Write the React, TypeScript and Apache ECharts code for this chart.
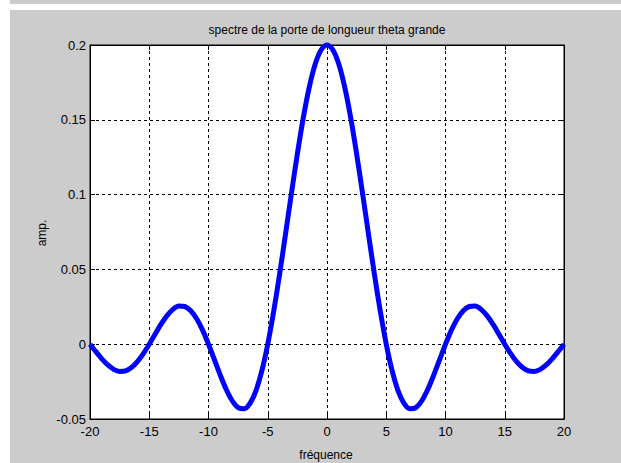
import React, { useEffect, useRef } from "react";
import * as echarts from "echarts";

const titleText = "spectre de la porte de longueur theta grande";
const xLabel = "fréquence";
const yLabel = "amp.";

const freq = [
  -20, -19.5, -19, -18.5, -18, -17.5, -17, -16.5, -16, -15.5,
  -15, -14.5, -14, -13.5, -13, -12.5, -12, -11.5, -11, -10.5,
  -10, -9.5, -9, -8.5, -8, -7.5, -7, -6.5, -6, -5.5,
  -5, -4.5, -4, -3.5, -3, -2.5, -2, -1.5, -1, -0.5,
  0, 0.5, 1, 1.5, 2, 2.5, 3, 3.5, 4, 4.5,
  5, 5.5, 6, 6.5, 7, 7.5, 8, 8.5, 9, 9.5,
  10, 10.5, 11, 11.5, 12, 12.5, 13, 13.5, 14, 14.5,
  15, 15.5, 16, 16.5, 17, 17.5, 18, 18.5, 19, 19.5, 20,
];

const amp = [
  0, -0.005, -0.0098, -0.0139, -0.0168, -0.0182, -0.0178, -0.0156, -0.0117, -0.0063,
  0, 0.0068, 0.0134, 0.0191, 0.0233, 0.0255, 0.0252, 0.0224, 0.017, 0.0094,
  0, -0.0104, -0.0208, -0.0303, -0.0378, -0.0424, -0.0432, -0.0396, -0.0312, -0.0179,
  0, 0.0219, 0.0468, 0.0736, 0.1009, 0.1273, 0.1514, 0.1717, 0.1871, 0.1967,
  0.2, 0.1967, 0.1871, 0.1717, 0.1514, 0.1273, 0.1009, 0.0736, 0.0468, 0.0219,
  0, -0.0179, -0.0312, -0.0396, -0.0432, -0.0424, -0.0378, -0.0303, -0.0208, -0.0104,
  0, 0.0094, 0.017, 0.0224, 0.0252, 0.0255, 0.0233, 0.0191, 0.0134, 0.0068,
  0, -0.0063, -0.0117, -0.0156, -0.0178, -0.0182, -0.0168, -0.0139, -0.0098, -0.005, 0,
];

const xMin = -20;
const xMax = 20;
const xStep = 5;
const yMin = -0.05;
const yMax = 0.2;
const yStep = 0.05;

const FONT = "Liberation Sans, Arial, sans-serif";
const GRAY = "#cccccc";

export default function App() {
  const ref = useRef<HTMLDivElement>(null);

  useEffect(() => {
    if (!ref.current) return;
    const chart = echarts.init(ref.current, undefined, { renderer: "svg" });
    const data = freq.map((f, i) => [f, amp[i]]);

    const axisCommon = {
      z: 3,
      axisLine: { show: true, onZero: false, lineStyle: { color: "#000", width: 1 } },
      axisTick: { show: true, inside: true, length: 5, lineStyle: { color: "#000" } },
    };

    chart.setOption({
      animation: false,
      backgroundColor: "#ffffff",
      grid: {
        left: 90,
        top: 45,
        right: 57,
        bottom: 44,
        show: true,
        backgroundColor: "#ffffff",
        borderColor: "#000",
        borderWidth: 1,
      },
      graphic: [
        { type: "rect", z: -10, silent: true, shape: { x: 10, y: 0, width: 611, height: 4 }, style: { fill: GRAY } },
        { type: "rect", z: -10, silent: true, shape: { x: 10, y: 10, width: 611, height: 453 }, style: { fill: GRAY } },
        {
          type: "text", x: 327, y: 30, z: 10,
          style: { text: titleText, font: `12px ${FONT}`, fill: "#000", align: "center", verticalAlign: "middle" },
        },
        {
          type: "text", x: 326, y: 455, z: 10,
          style: { text: xLabel, font: `12px ${FONT}`, fill: "#000", align: "center", verticalAlign: "middle" },
        },
        {
          type: "text", x: 42, y: 233, rotation: Math.PI / 2, z: 10,
          style: { text: yLabel, font: `12px ${FONT}`, fill: "#000", align: "center", verticalAlign: "middle" },
        },
      ],
      xAxis: [
        {
          type: "value", min: xMin, max: xMax, interval: xStep, position: "bottom",
          ...axisCommon,
          axisLabel: { color: "#000", fontFamily: FONT, fontSize: 13, margin: 6 },
          splitLine: { show: true, lineStyle: { color: "#000", type: [3, 3], width: 1 } },
        },
        {
          type: "value", min: xMin, max: xMax, interval: xStep, position: "top",
          ...axisCommon,
          axisLabel: { show: false },
          splitLine: { show: false },
        },
      ],
      yAxis: [
        {
          type: "value", min: yMin, max: yMax, interval: yStep, position: "left",
          ...axisCommon,
          axisLabel: { color: "#000", fontFamily: FONT, fontSize: 13, margin: 4 },
          splitLine: { show: true, lineStyle: { color: "#000", type: [3, 3], width: 1 } },
        },
        {
          type: "value", min: yMin, max: yMax, interval: yStep, position: "right",
          ...axisCommon,
          axisLabel: { show: false },
          splitLine: { show: false },
        },
      ],
      series: [
        {
          type: "line",
          data,
          xAxisIndex: 0,
          yAxisIndex: 0,
          smooth: 0.3,
          showSymbol: false,
          clip: false,
          z: 5,
          lineStyle: { color: "#0000ff", width: 5 },
        },
      ],
    });

    return () => chart.dispose();
  }, []);

  return (
    <div
      ref={ref}
      style={{ position: "fixed", left: 0, top: 0, width: 621, height: 463 }}
    />
  );
}
